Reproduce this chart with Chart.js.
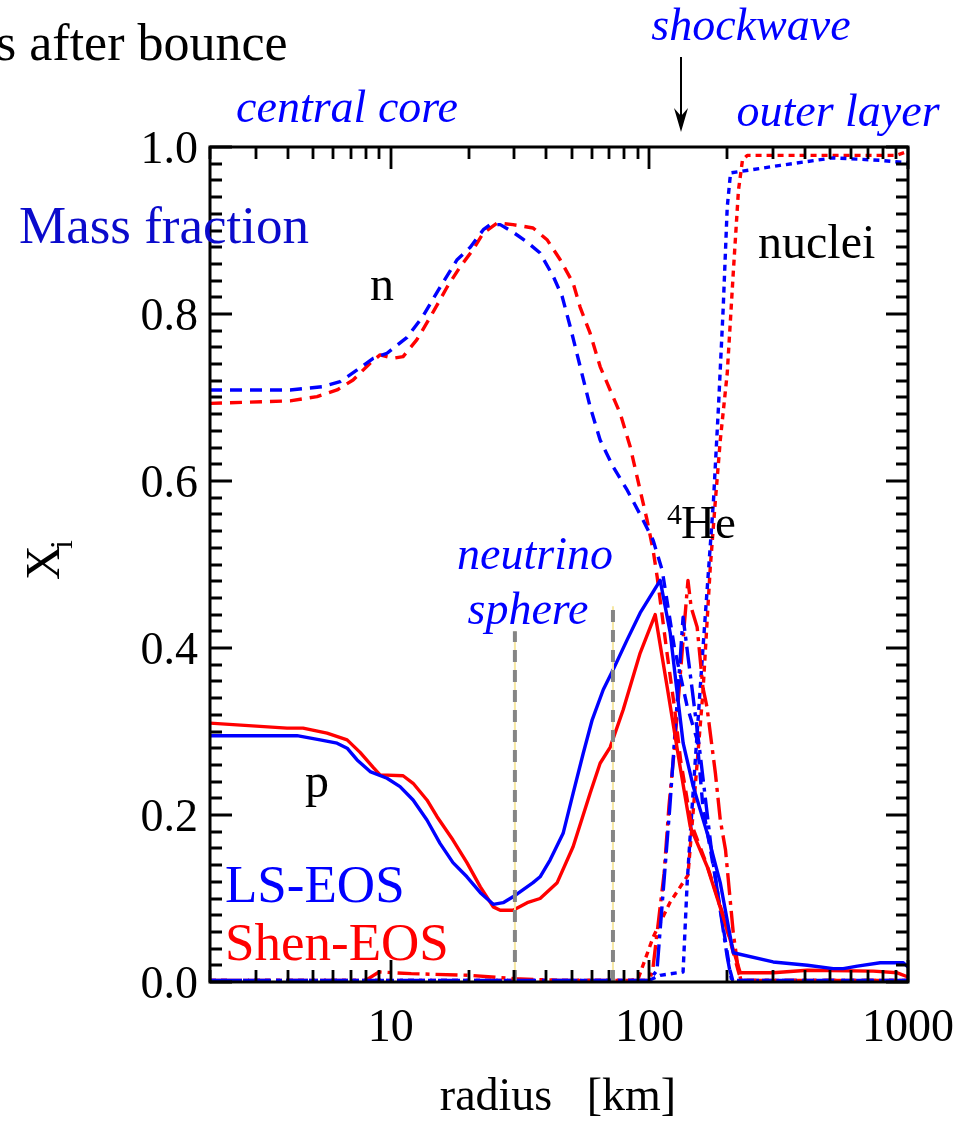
<!DOCTYPE html>
<html>
<head>
<meta charset="utf-8">
<title>Mass fraction vs radius</title>
<script src="https://cdn.jsdelivr.net/npm/chart.js@4.4.0/dist/chart.umd.min.js"></script>
<style>
  html, body { margin: 0; padding: 0; background: #fff; overflow: hidden; }
  canvas { display: block; }
</style>
</head>
<body>
<canvas id="chart-xi" width="975" height="1121"></canvas>
<script>
// --- Data: radius [km] and mass fraction X_i ---

// neutrons (dashed)
const nRadiusLS = [2, 4.08, 5.47, 6.37, 7.41, 8.55, 9.67, 11.56, 13.3, 15.5, 18.05, 20.3, 22.8, 24.2, 26.5, 29.7, 33.7, 37.8, 42.5, 46.0, 49.4, 54.0, 59.0, 64.5, 72.4, 82.1, 94.6, 103.4, 112.1, 125, 140, 153, 161, 181, 205, 210, 1000];
const nFracLS = [0.709, 0.709, 0.713, 0.719, 0.733, 0.747, 0.753, 0.772, 0.797, 0.832, 0.865, 0.880, 0.901, 0.907, 0.907, 0.898, 0.886, 0.873, 0.845, 0.821, 0.785, 0.737, 0.689, 0.649, 0.617, 0.589, 0.553, 0.529, 0.493, 0.40, 0.33, 0.29, 0.21, 0.12, 0.014, 0.002, 0.002];
const nRadiusShen = [2, 4.08, 5.19, 6.2, 7.15, 8.32, 9.09, 10.2, 11.16, 12.6, 14.2, 16.5, 18.5, 20.8, 22.8, 25.8, 29.7, 35.5, 40.2, 45.2, 50.7, 54.0, 59.0, 64.5, 70.5, 77.1, 84.3, 92.1, 98, 103.4, 107.2, 117, 125, 132, 145, 167, 193, 222, 230, 1000];
const nFracShen = [0.693, 0.696, 0.701, 0.709, 0.721, 0.741, 0.751, 0.747, 0.749, 0.769, 0.796, 0.832, 0.856, 0.877, 0.897, 0.909, 0.907, 0.903, 0.889, 0.865, 0.837, 0.808, 0.777, 0.737, 0.709, 0.681, 0.641, 0.589, 0.553, 0.517, 0.485, 0.394, 0.329, 0.266, 0.19, 0.14, 0.08, 0.01, 0.002, 0.002];

// protons (solid)
const pRadiusLS = [2, 4.34, 5.33, 6.2, 6.78, 7.41, 8.32, 9.67, 10.86, 12.2, 13.8, 15.5, 17.4, 19.7, 22.2, 24.9, 27.2, 29.7, 35.5, 37.8, 41.3, 46.4, 50.7, 55.5, 60.1, 66.3, 72.4, 82.1, 92.1, 110.1, 120.4, 128.1, 135.1, 147.8, 167.4, 187.9, 211, 301, 408, 514, 562, 637, 781, 959, 1000];
const pFracLS = [0.295, 0.295, 0.290, 0.286, 0.280, 0.266, 0.252, 0.244, 0.234, 0.218, 0.194, 0.166, 0.143, 0.126, 0.107, 0.093, 0.095, 0.102, 0.119, 0.126, 0.146, 0.178, 0.226, 0.274, 0.314, 0.350, 0.374, 0.410, 0.442, 0.481, 0.418, 0.346, 0.286, 0.234, 0.178, 0.119, 0.035, 0.024, 0.020, 0.016, 0.016, 0.019, 0.023, 0.023, 0.018];
const pRadiusShen = [2, 3.97, 4.58, 5.67, 6.78, 7.61, 8.55, 9.09, 11.16, 12.2, 13.8, 15.1, 17.4, 19.7, 22.2, 24.9, 26.5, 29.7, 33.7, 37.8, 44.0, 50.7, 59.0, 64.5, 70.5, 79.2, 92.1, 105.3, 117.2, 131.6, 143.9, 167.4, 193, 224.6, 301, 408, 734, 909, 1000];
const pFracShen = [0.310, 0.304, 0.304, 0.298, 0.290, 0.275, 0.257, 0.248, 0.247, 0.238, 0.218, 0.198, 0.170, 0.143, 0.114, 0.090, 0.086, 0.086, 0.095, 0.100, 0.119, 0.162, 0.226, 0.262, 0.281, 0.326, 0.394, 0.440, 0.353, 0.257, 0.186, 0.138, 0.078, 0.011, 0.011, 0.014, 0.013, 0.011, 0.006];

// 4He (dash-dot)
const heRadiusLS = [2, 100, 107, 120, 135, 141, 146, 157, 175, 200, 208, 1000];
const heFracLS = [0.002, 0.002, 0.014, 0.21, 0.437, 0.39, 0.353, 0.274, 0.15, 0.03, 0.002, 0.002];
const heRadiusShen = [2, 8, 9, 12, 20, 30, 45, 100, 103, 114, 119, 125, 135, 141, 145, 153, 161, 167, 172, 180, 188, 197, 211, 220, 226, 1000];
const heFracShen = [0.002, 0.002, 0.012, 0.010, 0.008, 0.004, 0.002, 0.002, 0.014, 0.13, 0.21, 0.28, 0.41, 0.481, 0.449, 0.425, 0.353, 0.329, 0.298, 0.25, 0.194, 0.158, 0.059, 0.018, 0.002, 0.002];

// heavy nuclei (dotted)
const nucRadiusLS = [2, 100, 110, 135, 140, 144, 153, 161, 177, 185, 193, 200, 206, 321, 514, 781, 1000];
const nucFracLS = [0.002, 0.002, 0.008, 0.012, 0.119, 0.178, 0.298, 0.398, 0.577, 0.689, 0.808, 0.928, 0.969, 0.978, 0.987, 0.984, 0.981];
const nucRadiusShen = [2, 85, 90.5, 103.5, 120, 141, 161, 172, 180, 188, 200, 211, 221, 229, 239, 400, 800, 900, 1000];
const nucFracShen = [0.002, 0.002, 0.004, 0.054, 0.095, 0.128, 0.346, 0.497, 0.577, 0.649, 0.729, 0.849, 0.948, 0.984, 0.990, 0.990, 0.990, 0.990, 0.995];

// neutrino spheres and shock position
const sphereRadius = [30.2, 72.3];
const sphereTop = [0.42, 0.45];
const shockRadius = 132;

// axes
const xMin = 2, xMax = 1000;
const xTickLabels = [10, 100, 1000];
const yTickLabels = [0, 0.2, 0.4, 0.6, 0.8, 1.0];
const yMinorStep = 0.02;

const BLUE = '#0000ff';
const RED = '#ff0000';
const SERIF = '"Liberation Serif", "Times New Roman", serif';

const DASH_N = [12, 8];
const DASH_HE = [22, 6, 4, 6];
const DASH_NUC = [6, 5];

function pts(rs, vs) {
  return rs.map((r, i) => ({ x: r, y: vs[i] }));
}

function series(label, rs, vs, color, dash) {
  return {
    label,
    data: pts(rs, vs),
    borderColor: color,
    borderWidth: 3.4,
    borderDash: dash,
    pointRadius: 0,
    fill: false,
    tension: 0,
    borderJoinStyle: 'round',
  };
}

function sphereLines() {
  const out = [];
  sphereRadius.forEach((r, i) => {
    const line = [{ x: r, y: 0 }, { x: r, y: sphereTop[i] }];
    out.push({ label: 'sphere-gray-' + i, data: line, borderColor: '#858585', borderWidth: 4, borderDash: [12, 8], pointRadius: 0 });
    out.push({ label: 'sphere-tint-' + i, data: line, borderColor: '#f6e7a4', borderWidth: 2, pointRadius: 0 });
  });
  return out;
}

// --- Frame, inward ticks, labels and annotations ---
const decorations = {
  id: 'decorations',
  afterDraw(chart) {
    const { ctx, chartArea: a, scales } = chart;
    const xs = scales.x, ys = scales.y;

    ctx.save();
    ctx.strokeStyle = '#000';
    ctx.lineWidth = 2.8;
    ctx.beginPath();
    // log ticks, top and bottom
    for (let d = 1; d <= xMax; d *= 10) {
      for (let k = 1; k < 10; k++) {
        const v = d * k;
        if (v < xMin || v > xMax) continue;
        const px = Math.round(xs.getPixelForValue(v));
        const len = k === 1 ? 22 : 12;
        ctx.moveTo(px, a.top); ctx.lineTo(px, a.top + len);
        ctx.moveTo(px, a.bottom); ctx.lineTo(px, a.bottom - len);
      }
    }
    // linear ticks, left and right
    const nSteps = Math.round(1 / yMinorStep);
    for (let i = 0; i <= nSteps; i++) {
      const py = Math.round(ys.getPixelForValue(i * yMinorStep));
      const len = i % 10 === 0 ? 22 : 12;
      ctx.moveTo(a.left, py); ctx.lineTo(a.left + len, py);
      ctx.moveTo(a.right, py); ctx.lineTo(a.right - len, py);
    }
    ctx.stroke();

    ctx.lineWidth = 3;
    ctx.strokeRect(a.left, a.top, a.right - a.left, a.bottom - a.top);

    // tick labels
    ctx.fillStyle = '#000';
    ctx.font = '46px ' + SERIF;
    ctx.textAlign = 'right';
    ctx.textBaseline = 'alphabetic';
    yTickLabels.forEach(v => {
      ctx.fillText(v.toFixed(1), a.left - 12, ys.getPixelForValue(v) + 16);
    });
    ctx.textAlign = 'center';
    xTickLabels.forEach(v => {
      ctx.fillText(String(v), xs.getPixelForValue(v), a.bottom + 59);
    });
    ctx.fillText('radius   [km]', 558, 1110);

    // y title X_i
    ctx.save();
    ctx.translate(59, 580);
    ctx.rotate(-Math.PI / 2);
    ctx.textAlign = 'left';
    ctx.font = '48px ' + SERIF;
    ctx.fillText('X', 0, 0);
    ctx.font = '32px ' + SERIF;
    ctx.fillText('i', 31, 13);
    ctx.restore();

    // black labels
    ctx.textAlign = 'left';
    ctx.font = '52px ' + SERIF;
    ctx.fillText('s after bounce', -4, 60);
    ctx.font = '48px ' + SERIF;
    ctx.textAlign = 'center';
    ctx.fillText('n', 382, 300);
    ctx.fillText('p', 317, 797);
    ctx.textAlign = 'left';
    ctx.fillText('nuclei', 758, 258);
    ctx.font = '30px ' + SERIF;
    ctx.fillText('4', 667, 524);
    ctx.font = '47px ' + SERIF;
    ctx.fillText('He', 681, 538);

    // blue italic region labels
    ctx.fillStyle = BLUE;
    ctx.font = 'italic 46px ' + SERIF;
    ctx.textAlign = 'center';
    ctx.fillText('shockwave', 751, 40);
    ctx.fillText('central core', 347, 122);
    ctx.fillText('outer layer', 838, 126);
    ctx.fillText('neutrino', 535, 569);
    ctx.fillText('sphere', 528, 624);

    ctx.textAlign = 'left';
    ctx.fillStyle = '#0a0acc';
    ctx.font = '53px ' + SERIF;
    ctx.fillText('Mass fraction', 19, 243);

    ctx.font = '53px ' + SERIF;
    ctx.fillStyle = BLUE;
    ctx.fillText('LS-EOS', 225, 902);
    ctx.fillStyle = RED;
    ctx.fillText('Shen-EOS', 225, 960);

    // shock arrow
    const sx = Math.round(xs.getPixelForValue(shockRadius));
    ctx.strokeStyle = '#000';
    ctx.fillStyle = '#000';
    ctx.lineWidth = 2;
    ctx.beginPath();
    ctx.moveTo(sx, 57);
    ctx.lineTo(sx, 124);
    ctx.stroke();
    ctx.beginPath();
    ctx.moveTo(sx, 132);
    ctx.lineTo(sx - 7, 108);
    ctx.lineTo(sx, 116);
    ctx.lineTo(sx + 7, 108);
    ctx.closePath();
    ctx.fill();

    ctx.restore();
  },
};

const ctx = document.getElementById('chart-xi').getContext('2d');

new Chart(ctx, {
  type: 'line',
  data: {
    datasets: [
      ...sphereLines(),
      series('p LS', pRadiusLS, pFracLS, BLUE, []),
      series('p Shen', pRadiusShen, pFracShen, RED, []),
      series('n LS', nRadiusLS, nFracLS, BLUE, DASH_N),
      series('n Shen', nRadiusShen, nFracShen, RED, DASH_N),
      series('4He LS', heRadiusLS, heFracLS, BLUE, DASH_HE),
      series('4He Shen', heRadiusShen, heFracShen, RED, DASH_HE),
      series('nuclei LS', nucRadiusLS, nucFracLS, BLUE, DASH_NUC),
      series('nuclei Shen', nucRadiusShen, nucFracShen, RED, DASH_NUC),
    ],
  },
  options: {
    responsive: false,
    devicePixelRatio: 1,
    animation: false,
    layout: { padding: { left: 210, right: 67, top: 147, bottom: 139 } },
    plugins: {
      legend: { display: false },
      tooltip: { enabled: false },
    },
    scales: {
      x: { type: 'logarithmic', min: xMin, max: xMax, display: false },
      y: { type: 'linear', min: 0, max: 1, display: false },
    },
  },
  plugins: [decorations],
});
</script>
</body>
</html>
